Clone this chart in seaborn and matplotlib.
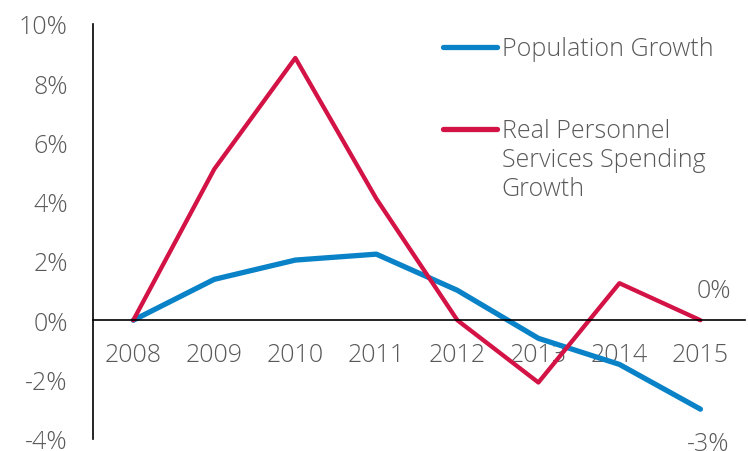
import seaborn as sns
import pandas as pd
import matplotlib.pyplot as plt
from matplotlib.lines import Line2D
from matplotlib.ticker import FuncFormatter

years = ["2008", "2009", "2010", "2011", "2012", "2013", "2014", "2015"]
population_growth = [0.0, 1.38, 2.03, 2.23, 1.01, -0.61, -1.49, -3.0]
personnel_growth = [0.0, 5.1, 8.85, 4.1, 0.0, -2.1, 1.25, 0.0]
y_ticks = [-4, -2, 0, 2, 4, 6, 8, 10]

blue = "#0A82C8"
red = "#D31245"
grey = "#595959"
fsize = 18

sns.set_theme(style="white")
plt.rcParams["font.family"] = ["Open Sans", "DejaVu Sans"]
plt.rcParams["font.weight"] = 300

df = pd.DataFrame({"Year": years, "Population": population_growth,
                   "Personnel": personnel_growth})

fig = plt.figure(figsize=(7.48, 4.52), dpi=100)
ax = fig.add_axes([0.124, 0.027, 0.872, 0.918])

sns.lineplot(data=df, x="Year", y="Population", color=blue, linewidth=3.8,
             ax=ax, sort=False, solid_capstyle="round")
sns.lineplot(data=df, x="Year", y="Personnel", color=red, linewidth=3.1,
             ax=ax, sort=False, solid_capstyle="round")

ax.set_xlim(-0.5, 7.55)
ax.set_ylim(-4, 10)
ax.set_yticks(y_ticks)
ax.yaxis.set_major_formatter(FuncFormatter(lambda v, p: f"{v:.0f}%"))
ax.set_xlabel("")
ax.set_ylabel("")

for s in ["top", "right"]:
    ax.spines[s].set_visible(False)
ax.spines["bottom"].set_position(("data", 0))
ax.spines["bottom"].set_color("black")
ax.spines["left"].set_color("black")
ax.spines["bottom"].set_linewidth(1.2)
ax.spines["left"].set_linewidth(1.2)

ax.tick_params(axis="y", length=0, pad=18, labelsize=fsize, labelcolor=grey)
ax.tick_params(axis="x", length=0, pad=16, labelsize=fsize, labelcolor=grey)

# end labels
ax.text(7.38, 1.0, "0%", ha="right", va="center", fontsize=fsize, color=grey)
ax.text(7.1, -4.15, "-3%", ha="center", va="center", fontsize=fsize,
        color=grey, clip_on=False)

# legend drawn by hand so the handle sits on the first line of the label
ax.add_line(Line2D([0.537, 0.620], [0.945, 0.945], transform=ax.transAxes,
                   color=blue, linewidth=3.8, solid_capstyle="round"))
ax.add_line(Line2D([0.537, 0.620], [0.747, 0.747], transform=ax.transAxes,
                   color=red, linewidth=3.8, solid_capstyle="round"))
ax.text(0.627, 0.94, "Population Growth", transform=ax.transAxes,
        ha="left", va="center", fontsize=fsize, color=grey)
ax.text(0.627, 0.747 + 0.025, "Real Personnel\nServices Spending\nGrowth",
        transform=ax.transAxes, ha="left", va="top", fontsize=fsize,
        color=grey, linespacing=1.2)

fig.savefig("out.png", dpi=100)
